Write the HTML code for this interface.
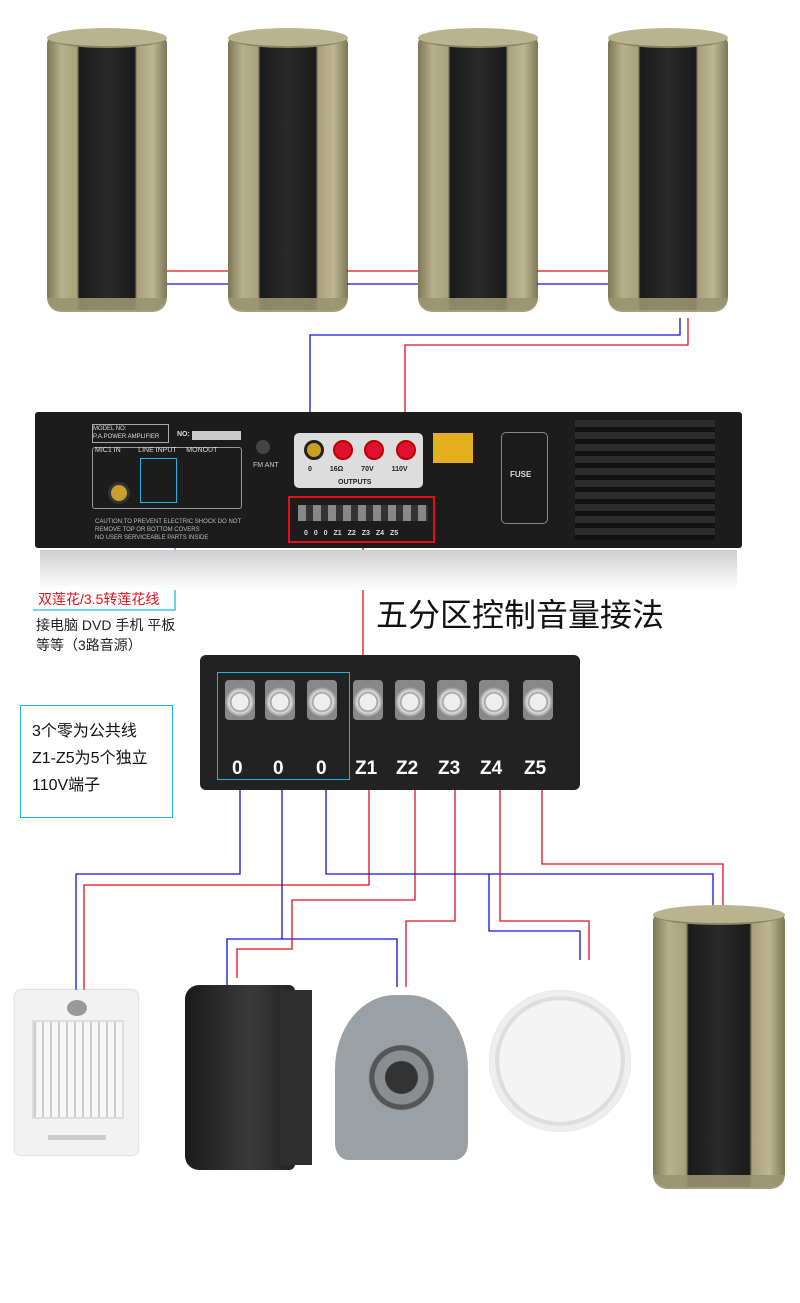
<!DOCTYPE html>
<html><head><meta charset="utf-8"><style>
body{margin:0;width:800px;height:1303px;background:#fff;position:relative;overflow:hidden;font-family:"Liberation Sans","Noto Sans CJK SC",sans-serif}
.a{position:absolute}
.col{position:absolute;width:120px;height:290px}
.col .body{position:absolute;left:0;top:8px;width:100%;height:274px;border-radius:8px 8px 14px 14px;background:linear-gradient(90deg,#7d7756 0%,#b7b08c 12%,#a8a17c 25%,#1a1a1a 27%,#2a2a2a 50%,#1a1a1a 73%,#a8a17c 75%,#bdb692 88%,#7d7756 100%)}
.col .top{position:absolute;left:0;top:0;width:100%;height:18px;border-radius:50%;background:#b9b390;border-bottom:2px solid #8c8664}
.col .rim{position:absolute;left:0;bottom:6px;width:100%;height:14px;border-radius:0 0 14px 14px;background:#9a9470;opacity:.9}
.term{position:absolute;width:30px;height:40px;top:680px;border-radius:4px;background:radial-gradient(circle at 50% 55%,#eee 0 8px,#999 9px,#ddd 11px,#888 15px)}
.tl{position:absolute;top:758px;color:#fff;font-weight:bold;font-size:19px}
</style></head><body>
<div class="col" style="left:47px;top:28px"><div class="body"></div><div class="rim"></div><div class="top"></div></div>
<div class="col" style="left:228px;top:28px"><div class="body"></div><div class="rim"></div><div class="top"></div></div>
<div class="col" style="left:418px;top:28px"><div class="body"></div><div class="rim"></div><div class="top"></div></div>
<div class="col" style="left:608px;top:28px"><div class="body"></div><div class="rim"></div><div class="top"></div></div>

<svg class="a" style="left:0;top:0" width="800" height="1303">
<g fill="none" stroke-width="1.3">
<path d="M167 271H228M347 271H418M537 271H608" stroke="#e0101a"/>
<path d="M167 284H228M347 284H418M537 284H608" stroke="#1010e0"/>
<path d="M680 318V335H310V440" stroke="#1010e0"/>
<path d="M688 318V345H405V440" stroke="#e0101a"/>
<path d="M175 548V610H33" stroke="#19b6e6"/>
<path d="M363 545V660" stroke="#e0101a"/>
<path d="M240 780V874H76V990" stroke="#1010e0"/>
<path d="M369 780V885H84V990" stroke="#e0101a"/>
<path d="M282 780V939M227 985V939H397V987" stroke="#1010e0"/>
<path d="M415 780V900H292V949H237V978" stroke="#e0101a"/>
<path d="M455 780V921H406V987" stroke="#e0101a"/>
<path d="M326 780V874H713V906M489 874V931H580V960" stroke="#1010e0"/>
<path d="M500 780V921H589V960" stroke="#e0101a"/>
<path d="M542 780V864H723V906" stroke="#e0101a"/>
</g>
</svg>

<div class="a" style="left:35px;top:412px;width:707px;height:136px;background:#1c1c1c;border-radius:3px"></div>
<div class="a" style="left:40px;top:550px;width:697px;height:40px;background:linear-gradient(#cfcfcf,#fff)"></div>
<div class="a" style="left:92px;top:424px;width:75px;height:17px;border:1px solid #aaa;color:#ddd;font-size:6px;line-height:8px">MODEL NO:<br>P.A.POWER AMPLIFIER</div>
<div class="a" style="left:177px;top:431px;color:#ddd;font-size:7px;font-weight:bold">NO:</div>
<div class="a" style="left:192px;top:431px;width:49px;height:9px;background:#ccc"></div>
<div class="a" style="left:92px;top:447px;width:148px;height:60px;border:1px solid #999;border-radius:3px"></div>
<div class="a" style="left:95px;top:447px;color:#ddd;font-size:7px">MIC1 IN &nbsp;&nbsp;&nbsp;&nbsp;&nbsp;&nbsp;&nbsp;&nbsp;LINE INPUT &nbsp;&nbsp;&nbsp;&nbsp;MONOUT</div>
<div class="a" style="left:108px;top:482px;width:16px;height:16px;border-radius:50%;background:#c8a030;border:3px solid #333"></div>
<div class="a" style="left:140px;top:458px;width:35px;height:43px;border:1px solid #19b6e6"></div>
<div class="a" style="left:95px;top:518px;color:#bbb;font-size:6px;line-height:8px">CAUTION:TO PREVENT ELECTRIC SHOCK DO NOT<br>REMOVE TOP OR BOTTOM COVERS<br>NO USER SERVICEABLE PARTS INSIDE</div>
<div class="a" style="left:256px;top:440px;width:14px;height:14px;border-radius:50%;background:#444"></div>
<div class="a" style="left:253px;top:462px;color:#ccc;font-size:7px">FM ANT</div>
<div class="a" style="left:294px;top:433px;width:129px;height:55px;background:#ddd;border-radius:5px"></div>
<div class="a" style="left:304px;top:440px;width:14px;height:14px;border-radius:50%;background:#c9a020;border:3px solid #222"></div>
<div class="a" style="left:333px;top:440px;width:16px;height:16px;border-radius:50%;background:#e01030;border:2px solid #b00"></div>
<div class="a" style="left:364px;top:440px;width:16px;height:16px;border-radius:50%;background:#e01030;border:2px solid #b00"></div>
<div class="a" style="left:396px;top:440px;width:16px;height:16px;border-radius:50%;background:#e01030;border:2px solid #b00"></div>
<div class="a" style="left:308px;top:466px;font-size:7px;font-weight:bold;color:#222;word-spacing:16px">0 16Ω 70V 110V</div>
<div class="a" style="left:338px;top:479px;font-size:7px;font-weight:bold;color:#222">OUTPUTS</div>
<div class="a" style="left:433px;top:433px;width:40px;height:30px;background:#e5b020"></div>
<div class="a" style="left:501px;top:432px;width:45px;height:90px;border:1px solid #888;border-radius:5px"></div>
<div class="a" style="left:510px;top:470px;color:#ddd;font-size:8px;font-weight:bold">FUSE</div>
<div class="a" style="left:575px;top:420px;width:140px;height:120px;background:repeating-linear-gradient(#2c2c2c 0 7px,#111 7px 12px)"></div>
<div class="a" style="left:288px;top:496px;width:147px;height:47px;border:2px solid #e0101a;box-sizing:border-box"></div>
<div class="a" style="left:298px;top:505px;width:130px;height:16px;background:repeating-linear-gradient(90deg,#888 0 8px,#333 8px 15px)"></div>
<div class="a" style="left:304px;top:530px;color:#ddd;font-size:7px;font-weight:bold;word-spacing:4px">0 0 0 Z1 Z2 Z3 Z4 Z5</div>

<div class="a" style="left:38px;top:589px;color:#e0101a;font-size:14px">双莲花/3.5转莲花线</div>
<div class="a" style="left:36px;top:615px;color:#222;font-size:14px;line-height:20px">接电脑 DVD 手机 平板<br>等等（3路音源）</div>
<div class="a" style="left:376px;top:590px;color:#111;font-size:32px">五分区控制音量接法</div>

<div class="a" style="left:200px;top:655px;width:380px;height:135px;background:#222;border-radius:6px"></div>
<div class="term" style="left:225px"></div><div class="term" style="left:265px"></div><div class="term" style="left:307px"></div><div class="term" style="left:353px"></div><div class="term" style="left:395px"></div><div class="term" style="left:437px"></div><div class="term" style="left:479px"></div><div class="term" style="left:523px"></div>
<div class="tl" style="left:232px">0</div><div class="tl" style="left:273px">0</div><div class="tl" style="left:316px">0</div><div class="tl" style="left:355px">Z1</div><div class="tl" style="left:396px">Z2</div><div class="tl" style="left:438px">Z3</div><div class="tl" style="left:480px">Z4</div><div class="tl" style="left:524px">Z5</div>
<div class="a" style="left:217px;top:672px;width:133px;height:108px;border:1.5px solid #19b6e6;box-sizing:border-box"></div>
<div class="a" style="left:20px;top:705px;width:153px;height:113px;border:1.5px solid #19b6e6;box-sizing:border-box;background:#fff;padding:12px 0 0 11px;font-size:16px;line-height:27px;color:#111">3个零为公共线<br>Z1-Z5为5个独立<br>110V端子</div>

<div class="a" style="left:15px;top:990px;width:123px;height:165px;background:#f2f2f2;border-radius:6px;box-shadow:0 0 2px #aaa"></div>
<div class="a" style="left:32px;top:1020px;width:88px;height:95px;background:repeating-linear-gradient(90deg,#ccc 0 2px,#f6f6f6 2px 8px),#eee;border:2px solid #ddd"></div>
<div class="a" style="left:67px;top:1000px;width:20px;height:16px;border-radius:50%;background:#999"></div>
<div class="a" style="left:48px;top:1135px;width:58px;height:5px;background:#ccc"></div>
<div class="a" style="left:185px;top:985px;width:110px;height:185px;background:linear-gradient(90deg,#1a1a1a,#3a3a3a 60%,#222);border-radius:14px 6px 6px 14px"></div>
<div class="a" style="left:280px;top:990px;width:32px;height:175px;background:#2e2e2e"></div>
<div class="a" style="left:335px;top:995px;width:133px;height:165px;background:radial-gradient(circle at 50% 50%,#333 0 15%,#8a8e92 16% 25%,#555 26% 30%,#9aa0a4 31%);border-radius:45% 45% 10% 10%"></div>
<div class="a" style="left:489px;top:990px;width:142px;height:142px;border-radius:50%;background:radial-gradient(circle,#f4f4f4 0 60%,#ddd 61% 64%,#eee 65% 70%,#ccc 71%)"></div>
<div class="col" style="left:653px;top:905px;width:132px;height:290px"><div class="body"></div><div class="rim"></div><div class="top"></div></div>
</body></html>
